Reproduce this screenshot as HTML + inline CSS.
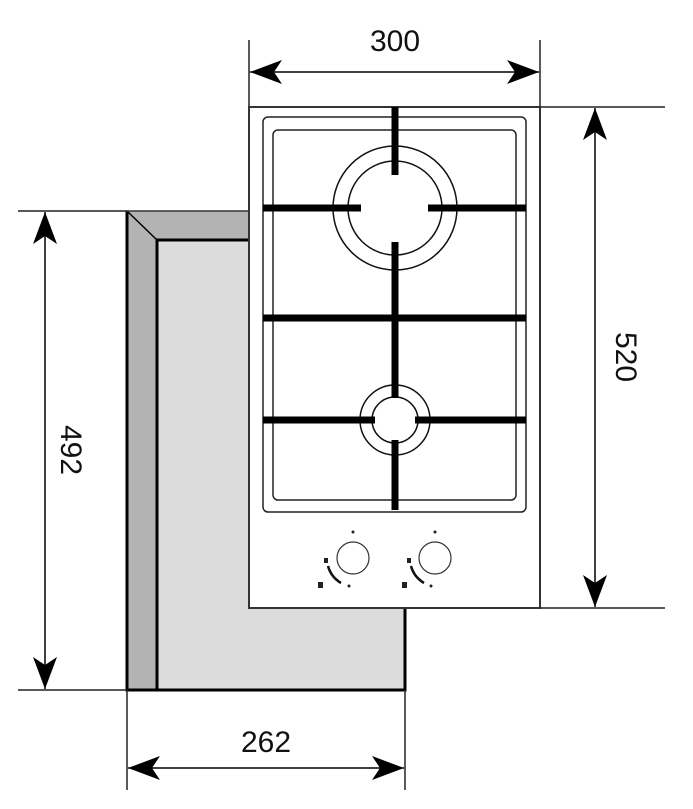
<!DOCTYPE html>
<html><head><meta charset="utf-8"><style>
html,body{margin:0;padding:0;background:#fff}
svg{display:block}
text{font-family:"Liberation Sans",sans-serif;font-size:30px;fill:#111}
</style></head><body>
<svg width="693" height="809" viewBox="0 0 693 809" xmlns="http://www.w3.org/2000/svg">
<defs>
<marker id="a" viewBox="0 0 32 24" refX="32" refY="12" markerWidth="32" markerHeight="24" markerUnits="userSpaceOnUse" orient="auto">
<path d="M0,0 L32,12 L0,24 L8,12 Z" fill="#000"/>
</marker>
</defs>
<polygon points="127,211 249,211 249,240 157,240 157,690 127,690" fill="#b3b3b3"/>
<rect x="157" y="240" width="248" height="450" fill="#dcdcdc"/>
<line x1="127" y1="211" x2="157" y2="240" stroke="#000" stroke-width="1.5"/>
<polyline points="249,240 157,240 157,690" fill="none" stroke="#000" stroke-width="3"/>
<polyline points="127,211 127,690 405,690 405,608" fill="none" stroke="#000" stroke-width="3"/>
<line x1="127" y1="211" x2="249" y2="211" stroke="#333" stroke-width="1.5"/>
<rect x="249" y="107" width="291" height="501" fill="#fff" stroke="#333" stroke-width="2"/>
<rect x="263" y="117" width="263" height="395" rx="5" fill="none" stroke="#222" stroke-width="1.5"/>
<rect x="273" y="130" width="243" height="370" rx="5" fill="none" stroke="#222" stroke-width="1.5"/>
<circle cx="395" cy="208" r="62" fill="none" stroke="#111" stroke-width="1.5"/>
<circle cx="395" cy="208" r="47" fill="none" stroke="#111" stroke-width="1.5"/>
<circle cx="395" cy="420" r="35" fill="none" stroke="#111" stroke-width="1.5"/>
<circle cx="395" cy="420" r="23" fill="none" stroke="#111" stroke-width="1.5"/>
<g stroke="#000" stroke-width="7">
<line x1="395" y1="107" x2="395" y2="175"/>
<line x1="395" y1="242" x2="395" y2="398"/>
<line x1="395" y1="440" x2="395" y2="510"/>
<line x1="263" y1="208" x2="361" y2="208"/>
<line x1="428" y1="208" x2="526" y2="208"/>
<line x1="263" y1="318" x2="526" y2="318"/>
<line x1="263" y1="420" x2="375" y2="420"/>
<line x1="415" y1="420" x2="526" y2="420"/>
</g>
<g fill="none" stroke="#333" stroke-width="1.2">
<circle cx="353" cy="558" r="16"/>
<circle cx="435" cy="558" r="16"/>
</g>
<g fill="#222">
<circle cx="353" cy="532" r="1.5"/><circle cx="435" cy="532" r="1.5"/>
<circle cx="349" cy="586" r="1.5"/><circle cx="431" cy="586" r="1.5"/>
<rect x="324" y="558" width="4" height="5"/><rect x="407" y="558" width="4" height="5"/>
<rect x="318" y="582" width="5" height="6"/><rect x="402" y="582" width="5" height="6"/>
</g>
<path d="M328,566 Q331,577 341,583" fill="none" stroke="#111" stroke-width="2.5"/>
<path d="M411,566 Q414,577 424,583" fill="none" stroke="#111" stroke-width="2.5"/>
<g stroke="#222" stroke-width="1.5" fill="none">
<line x1="249" y1="40" x2="249" y2="107"/>
<line x1="540" y1="40" x2="540" y2="107"/>
<line x1="540" y1="107" x2="665" y2="107"/>
<line x1="540" y1="608" x2="665" y2="608"/>
<line x1="18" y1="211" x2="127" y2="211"/>
<line x1="18" y1="690" x2="127" y2="690"/>
<line x1="127" y1="690" x2="127" y2="790"/>
<line x1="405" y1="690" x2="405" y2="790"/>
</g>
<g stroke="#000" stroke-width="1.5">
<line x1="395" y1="72" x2="250" y2="72" marker-end="url(#a)"/>
<line x1="395" y1="72" x2="539" y2="72" marker-end="url(#a)"/>
<line x1="595" y1="357" x2="595" y2="108" marker-end="url(#a)"/>
<line x1="595" y1="357" x2="595" y2="607" marker-end="url(#a)"/>
<line x1="45" y1="450" x2="45" y2="212" marker-end="url(#a)"/>
<line x1="45" y1="450" x2="45" y2="689" marker-end="url(#a)"/>
<line x1="266" y1="768" x2="128" y2="768" marker-end="url(#a)"/>
<line x1="266" y1="768" x2="404" y2="768" marker-end="url(#a)"/>
</g>
<text x="395" y="51" text-anchor="middle">300</text>
<text x="266" y="752" text-anchor="middle">262</text>
<text transform="translate(616,357) rotate(90)" text-anchor="middle">520</text>
<text transform="translate(61,450) rotate(90)" text-anchor="middle">492</text>
</svg>
</body></html>
